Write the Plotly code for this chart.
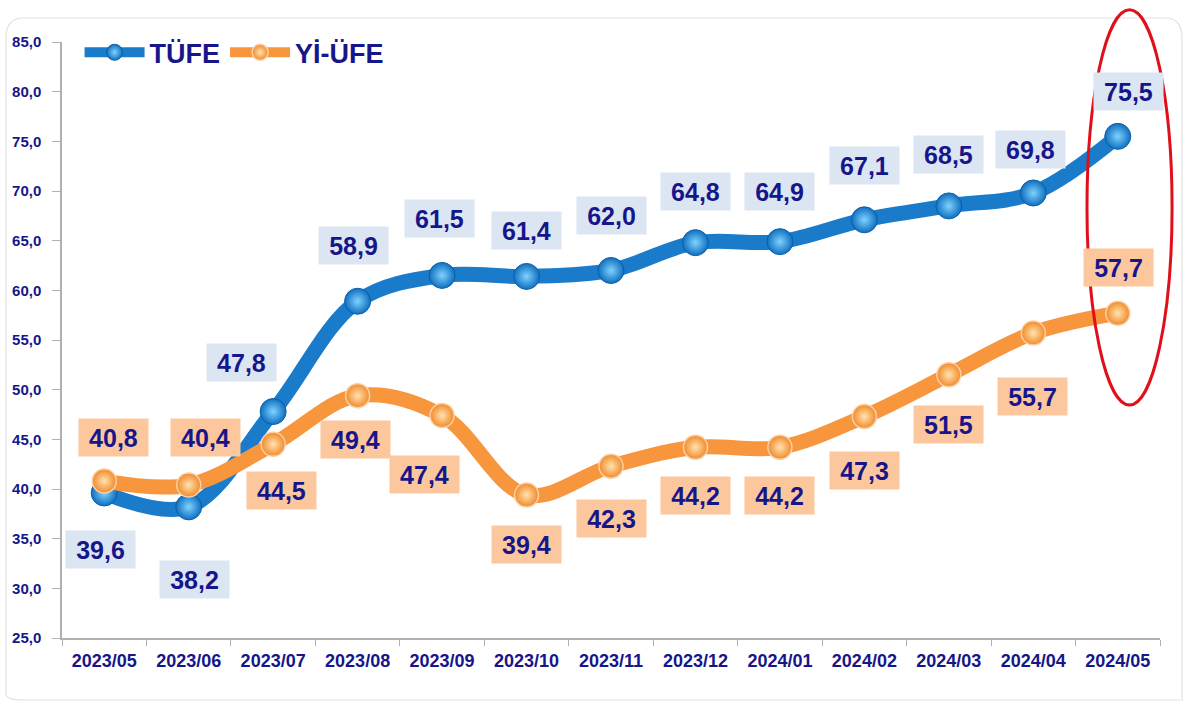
import plotly.graph_objects as go

months = ["2023/05", "2023/06", "2023/07", "2023/08", "2023/09", "2023/10", "2023/11",
          "2023/12", "2024/01", "2024/02", "2024/03", "2024/04", "2024/05"]
tufe = [39.6, 38.2, 47.8, 58.9, 61.5, 61.4, 62.0, 64.8, 64.9, 67.1, 68.5, 69.8, 75.5]
yiufe = [40.8, 40.4, 44.5, 49.4, 47.4, 39.4, 42.3, 44.2, 44.2, 47.3, 51.5, 55.7, 57.7]
y_ticks = [25, 30, 35, 40, 45, 50, 55, 60, 65, 70, 75, 80, 85]
y_ticktext = ["25,0", "30,0", "35,0", "40,0", "45,0", "50,0", "55,0", "60,0", "65,0",
              "70,0", "75,0", "80,0", "85,0"]

# label offsets (pixels) - styling only
tufe_dy = [-57, -73, 49, 56, 57, 46, 55, 51, 50, 54, 51, 43, 45]
tufe_dx = [-4, 6, -32, -4, -3, 0, 0, 0, 0, 0, 0, -3, 11]
yi_dy = [44, 48, -46, -44, -59, -50, -52, -48, -48, -54, -50, -63, 46]
yi_dx = [9, 17, 8, -2, -18, 0, 0, 0, 0, 0, 0, -1, 1]

NAVY = "#16168a"
BLUE = "#1a7bcb"
ORANGE = "#f7963c"
FONT = "Arial, Liberation Sans, sans-serif"

fig = go.Figure()
fig.add_trace(go.Scatter(
    x=months, y=tufe, name="TÜFE", mode="lines+markers",
    line=dict(color=BLUE, width=15, shape="spline", smoothing=1.0),
    marker=dict(size=26, color="#0f6fc0",
                gradient=dict(type="radial", color="#7fd3ff"),
                line=dict(color="#0b5fa8", width=1)),
))
fig.add_trace(go.Scatter(
    x=months, y=yiufe, name="Yİ-ÜFE", mode="lines+markers",
    line=dict(color=ORANGE, width=15, shape="spline", smoothing=1.0),
    marker=dict(size=24, color="#f28a2a",
                gradient=dict(type="radial", color="#ffe3b0"),
                line=dict(color="#fbd0a6", width=1.5)),
))

for i, m in enumerate(months):
    fig.add_annotation(x=m, y=tufe[i], text=f"{tufe[i]:.1f}".replace(".", ","),
                       showarrow=False, yshift=tufe_dy[i], xshift=tufe_dx[i],
                       bgcolor="#dbe6f2", width=63, height=31, borderpad=3,
                       font=dict(family=FONT, size=25, color=NAVY, weight="bold"))
    fig.add_annotation(x=m, y=yiufe[i], text=f"{yiufe[i]:.1f}".replace(".", ","),
                       showarrow=False, yshift=yi_dy[i], xshift=yi_dx[i],
                       bgcolor="#fcc79c", width=63, height=31, borderpad=3,
                       font=dict(family=FONT, size=25, color=NAVY, weight="bold"))

# red ellipse highlighting the last month
fig.add_shape(type="circle", xref="paper", yref="paper",
              x0=0.9335, x1=1.011, y0=0.391, y1=1.054,
              line=dict(color="#e0101a", width=3))

# faint rounded frame around the figure
fig.add_shape(type="path", xref="paper", yref="paper",
              path=("M -0.0355,1.0403 Q -0.0510,1.0403 -0.0510,1.0067 "
                    "L -0.0510,-0.0940 Q -0.0510,-0.1040 -0.0355,-0.1040 "
                    "L 1.0210,-0.1040 Q 1.0200,-0.1040 1.0200,-0.0940 "
                    "L 1.0200,1.0067 Q 1.0200,1.0403 1.0050,1.0403 Z"),
              line=dict(color="#e2e2e2", width=1.2), layer="below")

fig.update_layout(
    width=1188, height=707,
    margin=dict(l=62, r=28, t=42, b=69),
    paper_bgcolor="white", plot_bgcolor="white",
    font=dict(family=FONT, color=NAVY),
    showlegend=True,
    legend=dict(orientation="h", x=0.016, y=0.982, xanchor="left", yanchor="middle",
                font=dict(family=FONT, size=27, color=NAVY, weight="bold"),
                itemwidth=60, bgcolor="rgba(0,0,0,0)", tracegroupgap=0),
    xaxis=dict(type="category", showgrid=False, zeroline=False,
               showline=True, linecolor="#b0b0b0", linewidth=1.5,
               ticks="outside", tickson="boundaries", ticklen=6, tickcolor="#b0b0b0",
               ticklabelstandoff=6,
               tickfont=dict(family=FONT, size=18, color=NAVY, weight="bold"),
               range=[-0.5, 12.5]),
    yaxis=dict(range=[25, 85], tickvals=y_ticks, ticktext=y_ticktext,
               showgrid=False, zeroline=False, showline=True, linecolor="#b0b0b0",
               linewidth=1.5, ticks="outside", ticklen=8, tickcolor="#b0b0b0",
               ticklabelstandoff=8,
               tickfont=dict(family=FONT, size=15, color=NAVY, weight="bold")),
)

fig.write_html("out.html")
